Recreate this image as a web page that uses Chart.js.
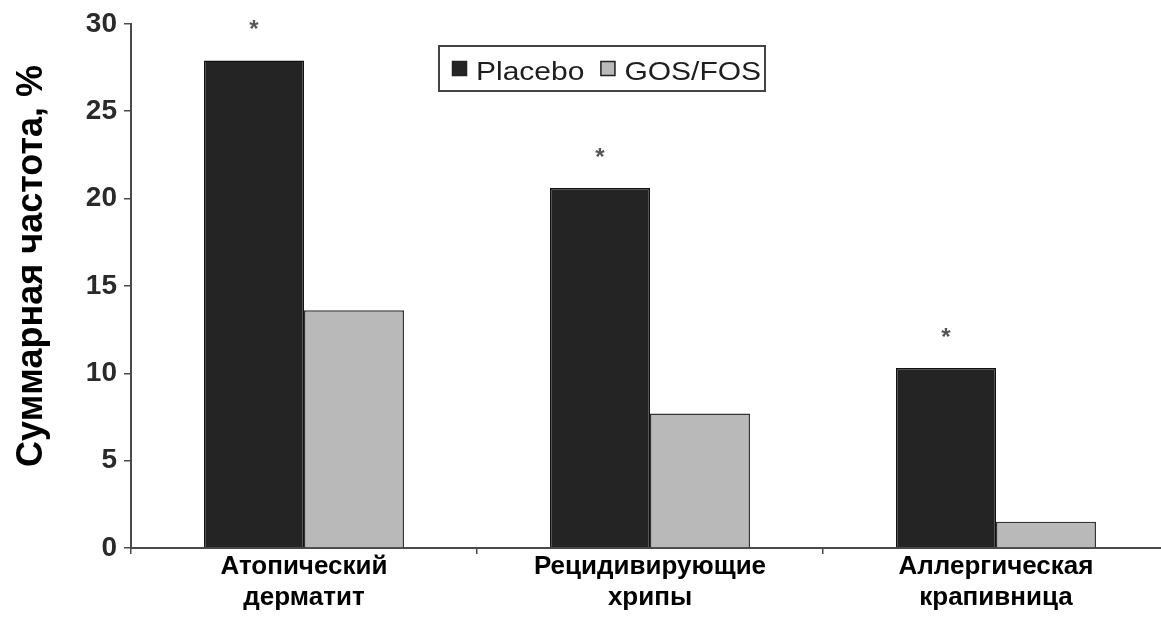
<!DOCTYPE html>
<html>
<head>
<meta charset="utf-8">
<script src="https://cdn.jsdelivr.net/npm/chart.js@4.4.1/dist/chart.umd.min.js"></script>
<style>
  html, body { margin: 0; padding: 0; background: #ffffff; overflow: hidden; }
  #wrap { width: 1172px; height: 618px; position: relative; }
</style>
</head>
<body>
<div id="wrap"><canvas id="c"></canvas></div>
<script>
// ---- data ----
const categories = [
  ['Атопический', 'дерматит'],
  ['Рецидивирующие', 'хрипы'],
  ['Аллергическая', 'крапивница']
];
const seriesNames = ['Placebo', 'GOS/FOS'];
const placebo = [27.9, 20.6, 10.3];
const gosfos = [13.6, 7.7, 1.5];
const significance = ['*', '*', '*'];
const yTickValues = [0, 5, 10, 15, 20, 25, 30];
const yAxisTitle = 'Суммарная частота, %';

// ---- styles ----
const FONT = "'Liberation Sans', Arial, sans-serif";
const DARK = '#242424';
const GREY = '#b9b9b9';
const AXIS = '#4a4a4a';

const yTitlePlugin = {
  id: 'yTitle',
  afterDraw(chart) {
    const ctx = chart.ctx;
    const s = chart.scales.y;
    ctx.save();
    ctx.translate(42, (s.top + s.bottom) / 2 - 20);
    ctx.rotate(-Math.PI / 2);
    ctx.font = 'bold 36px ' + FONT;
    ctx.fillStyle = '#000';
    ctx.textAlign = 'center';
    ctx.textBaseline = 'alphabetic';
    ctx.fillText(yAxisTitle, 0, 0);
    ctx.restore();
  }
};

const starPlugin = {
  id: 'stars',
  afterDatasetsDraw(chart) {
    const ctx = chart.ctx;
    const meta = chart.getDatasetMeta(0);
    ctx.save();
    ctx.font = 'bold 24px ' + FONT;
    ctx.fillStyle = '#555';
    ctx.textAlign = 'center';
    ctx.textBaseline = 'middle';
    meta.data.forEach((bar, i) => {
      ctx.fillText(significance[i], bar.x, bar.y - 30);
    });
    ctx.restore();
  }
};

const boxLegendPlugin = {
  id: 'boxLegend',
  afterDraw(chart) {
    const ctx = chart.ctx;
    const sx = 1.2;
    ctx.save();
    ctx.lineWidth = 2;
    ctx.strokeStyle = '#444';
    ctx.strokeRect(439, 46, 326, 45);
    ctx.font = '25px ' + FONT;
    ctx.textBaseline = 'alphabetic';
    let x = 452;
    chart.data.datasets.forEach((ds) => {
      ctx.fillStyle = ds.backgroundColor;
      ctx.fillRect(x, 61, 15, 15);
      ctx.lineWidth = 1.5;
      ctx.strokeStyle = '#222';
      ctx.strokeRect(x + 0.5, 61.5, 14, 14);
      ctx.fillStyle = '#1e1e1e';
      const tx = x + 24;
      ctx.save();
      ctx.translate(tx, 80);
      ctx.scale(sx, 1);
      ctx.fillText(ds.label, 0, 0);
      ctx.restore();
      x = tx + ctx.measureText(ds.label).width * sx + 16;
    });
    ctx.restore();
  }
};

new Chart(document.getElementById('c'), {
  type: 'bar',
  data: {
    labels: categories,
    datasets: [
      { label: seriesNames[0], data: placebo, backgroundColor: DARK, borderColor: '#111', borderWidth: 1.5 },
      { label: seriesNames[1], data: gosfos, backgroundColor: GREY, borderColor: '#333', borderWidth: 1.5 }
    ]
  },
  options: {
    responsive: true,
    maintainAspectRatio: false,
    animation: false,
    devicePixelRatio: 1,
    layout: { padding: { top: 19, right: 3, bottom: 0, left: 0 } },
    plugins: { legend: { display: false }, tooltip: { enabled: false } },
    datasets: { bar: { categoryPercentage: 0.578, barPercentage: 1.0 } },
    scales: {
      x: {
        offset: true,
        afterFit(scale) { scale.height = 70; },
        border: { display: true, color: AXIS, width: 2 },
        grid: { display: true, drawOnChartArea: false, drawTicks: true, tickLength: 6, color: AXIS, lineWidth: 1.5, offset: true },
        ticks: {
          color: '#000',
          padding: -3,
          font: { family: FONT, size: 26, weight: 'bold', lineHeight: 1.2 },
          maxRotation: 0, autoSkip: false
        }
      },
      y: {
        min: 0, max: 30,
        afterFit(scale) { scale.width = 131; },
        afterBuildTicks(scale) { scale.ticks = yTickValues.map(v => ({ value: v })); },
        border: { display: true, color: AXIS, width: 2 },
        grid: { display: true, drawOnChartArea: false, drawTicks: true, tickLength: 7, color: AXIS, lineWidth: 1.5 },
        ticks: {
          color: '#2a2a2a',
          padding: 7,
          font: { family: FONT, size: 28, weight: 'bold' }
        }
      }
    }
  },
  plugins: [yTitlePlugin, starPlugin, boxLegendPlugin]
});
</script>
</body>
</html>
